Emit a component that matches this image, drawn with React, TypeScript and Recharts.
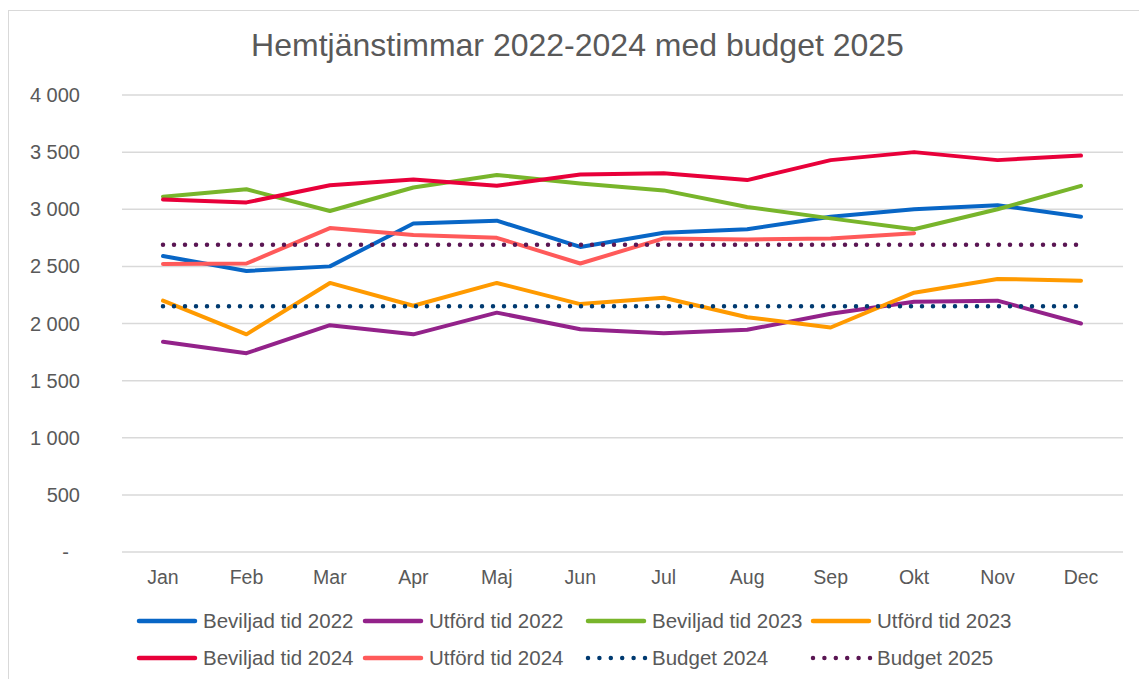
import React from "react";
import { LineChart, Line, XAxis, YAxis, CartesianGrid, Legend } from "recharts";

// Hemtjänsttimmar per månad
const months = ["Jan", "Feb", "Mar", "Apr", "Maj", "Jun", "Jul", "Aug", "Sep", "Okt", "Nov", "Dec"];
const beviljad2022 = [2590, 2460, 2500, 2875, 2900, 2670, 2795, 2825, 2935, 3000, 3035, 2935];
const utford2022 = [1840, 1740, 1985, 1905, 2095, 1950, 1915, 1945, 2085, 2190, 2200, 2000];
const beviljad2023 = [3110, 3175, 2985, 3190, 3300, 3225, 3165, 3020, 2920, 2825, 3000, 3205];
const utford2023 = [2200, 1905, 2355, 2155, 2355, 2170, 2225, 2055, 1965, 2270, 2390, 2375];
const beviljad2024 = [3085, 3060, 3210, 3260, 3205, 3305, 3315, 3255, 3430, 3500, 3430, 3470];
const utford2024 = [2520, 2525, 2835, 2775, 2750, 2525, 2745, 2735, 2745, 2790, null, null];
const budget2024 = [2150, 2150, 2150, 2150, 2150, 2150, 2150, 2150, 2150, 2150, 2150, 2150];
const budget2025 = [2690, 2690, 2690, 2690, 2690, 2690, 2690, 2690, 2690, 2690, 2690, 2690];
const yTicks = [0, 500, 1000, 1500, 2000, 2500, 3000, 3500, 4000];

const TEXT = "#595959";
const FONT = "'Liberation Sans', Arial, sans-serif";

const SERIES = [
  { key: "Beviljad tid 2022", color: "#0866C6", dotted: false },
  { key: "Utförd tid 2022", color: "#93228A", dotted: false },
  { key: "Beviljad tid 2023", color: "#78B52B", dotted: false },
  { key: "Utförd tid 2023", color: "#FF9A00", dotted: false },
  { key: "Beviljad tid 2024", color: "#E8003A", dotted: false },
  { key: "Utförd tid 2024", color: "#FF5A5A", dotted: false },
  { key: "Budget 2024", color: "#003A70", dotted: true },
  { key: "Budget 2025", color: "#5A1653", dotted: true },
];

const data = months.map((m, i) => ({
  month: m,
  "Beviljad tid 2022": beviljad2022[i],
  "Utförd tid 2022": utford2022[i],
  "Beviljad tid 2023": beviljad2023[i],
  "Utförd tid 2023": utford2023[i],
  "Beviljad tid 2024": beviljad2024[i],
  "Utförd tid 2024": utford2024[i],
  "Budget 2024": budget2024[i],
  "Budget 2025": budget2025[i],
}));

function formatTal(v: number): string {
  if (v === 0) return "-";
  return v.toLocaleString("en-US").replace(",", " ");
}

function YTick({ y, payload }: any) {
  const v = payload.value as number;
  return (
    <text
      x={v === 0 ? 69 : 80}
      y={y + 7}
      textAnchor="end"
      fontSize={20}
      fontFamily={FONT}
      fill={TEXT}
    >
      {formatTal(v)}
    </text>
  );
}

function XTick({ x, payload }: any) {
  return (
    <text x={x} y={584} textAnchor="middle" fontSize={19.5} fontFamily={FONT} fill={TEXT}>
      {payload.value}
    </text>
  );
}

// Legend i två rader med fasta kolumner, som i Excel-originalet
const COLS = [136, 362, 585, 810];

function LegendContent() {
  return (
    <div style={{ position: "relative", width: 1139, height: 80 }}>
      {SERIES.map((s, i) => {
        const left = COLS[i % 4];
        const top = i < 4 ? 8 : 45;
        return (
          <div key={s.key} style={{ position: "absolute", left, top, height: 26 }}>
            <svg width={64} height={26} style={{ position: "absolute", left: 0, top: 0 }}>
              <line
                x1={3}
                x2={s.dotted ? 61 : 59}
                y1={13}
                y2={13}
                stroke={s.color}
                strokeWidth={4.5}
                strokeLinecap="round"
                strokeDasharray={s.dotted ? "0 11.4" : undefined}
              />
            </svg>
            <span
              style={{
                position: "absolute",
                left: 67,
                top: 1,
                whiteSpace: "nowrap",
                fontSize: 20.5,
                fontFamily: FONT,
                color: TEXT,
                lineHeight: "24px",
              }}
            >
              {s.key}
            </span>
          </div>
        );
      })}
    </div>
  );
}

export default function App() {
  return (
    <div
      style={{
        position: "absolute",
        left: 0,
        top: 0,
        width: 1139,
        height: 679,
        background: "#fff",
        overflow: "hidden",
      }}
    >
      <div
        style={{
          position: "absolute",
          left: 8,
          top: 10,
          width: 1160,
          height: 700,
          border: "1.5px solid #d9d9d9",
        }}
      />
      <div
        style={{
          position: "absolute",
          left: 0,
          top: 27,
          width: 1139,
          textAlign: "center",
          fontFamily: FONT,
          fontSize: 32,
          color: TEXT,
          paddingLeft: 16,
          boxSizing: "border-box",
        }}
      >
        Hemtjänstimmar 2022-2024 med budget 2025
      </div>
      <div style={{ position: "absolute", left: 0, top: 0 }}>
        <LineChart
          width={1139}
          height={679}
          data={data}
          margin={{ top: 95, right: 16, bottom: 87, left: 8 }}
        >
          <CartesianGrid vertical={false} stroke="#d9d9d9" strokeWidth={1.5} />
          <XAxis
            dataKey="month"
            height={40}
            padding={{ left: 41, right: 42 }}
            axisLine={false}
            tickLine={false}
            tick={<XTick />}
            interval={0}
          />
          <YAxis
            width={114}
            domain={[0, 4000]}
            ticks={yTicks}
            axisLine={false}
            tickLine={false}
            tick={<YTick />}
            interval={0}
          />
          <Legend
            layout="horizontal"
            verticalAlign="middle"
            align="center"
            content={<LegendContent />}
            wrapperStyle={{ left: 0, top: 600, width: 1139, height: 80 }}
          />
          {SERIES.map((s) => (
            <Line
              key={s.key}
              dataKey={s.key}
              type="linear"
              stroke={s.color}
              strokeWidth={s.dotted ? 4.5 : 4}
              strokeLinecap="round"
              strokeLinejoin="round"
              strokeDasharray={s.dotted ? "0 11" : undefined}
              dot={false}
              activeDot={false}
              isAnimationActive={false}
            />
          ))}
        </LineChart>
      </div>
    </div>
  );
}
